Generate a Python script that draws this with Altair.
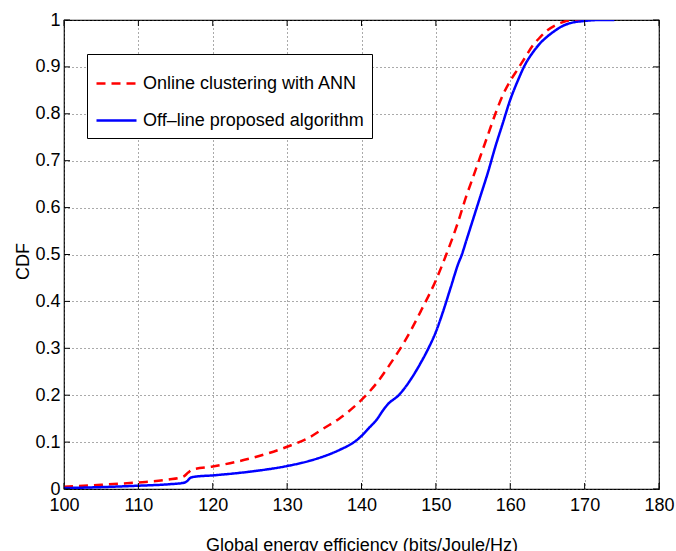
import altair as alt
import pandas as pd

# ---- data ----
online_x = [100, 105, 110, 114, 116, 116.7, 117.2, 120, 125, 130, 133, 135, 137, 140, 142, 144, 146,
            148, 150, 151.4, 153, 154, 155, 156, 157, 158, 159, 160, 161, 162, 163, 164, 165, 166,
            167, 168, 170]
online_y = [0.005, 0.009, 0.014, 0.020, 0.026, 0.035, 0.041, 0.048, 0.065, 0.090, 0.110, 0.130, 0.150,
            0.190, 0.225, 0.270, 0.320, 0.380, 0.445, 0.500, 0.570, 0.620, 0.665, 0.710, 0.755, 0.800,
            0.840, 0.870, 0.895, 0.920, 0.945, 0.963, 0.978, 0.988, 0.995, 0.999, 1.000]

offline_x = [100, 105, 110, 114, 116, 116.5, 117, 117.5, 120, 125, 130, 133, 135, 137, 139, 140, 141,
             142, 143, 143.5, 145, 147, 148, 149, 150, 151, 152, 153, 153.5, 154, 155, 156, 157, 158,
             159, 160, 161, 162, 163, 164, 165, 166, 167, 168, 170, 172, 174]
offline_y = [0.002, 0.004, 0.007, 0.010, 0.013, 0.016, 0.024, 0.026, 0.029, 0.037, 0.049, 0.060, 0.070,
             0.083, 0.100, 0.113, 0.130, 0.147, 0.170, 0.180, 0.200, 0.243, 0.270, 0.300, 0.335, 0.380,
             0.430, 0.480, 0.500, 0.525, 0.575, 0.625, 0.675, 0.730, 0.780, 0.830, 0.870, 0.905, 0.930,
             0.950, 0.965, 0.977, 0.987, 0.993, 0.998, 1.000, 1.000]

series_names = ["Online clustering with ANN", "Off\u2013line proposed algorithm"]
series_colors = ["#ff0000", "#0000ff"]
x_ticks = [100, 110, 120, 130, 140, 150, 160, 170, 180]
y_ticks = [0, 0.1, 0.2, 0.3, 0.4, 0.5, 0.6, 0.7, 0.8, 0.9, 1]

x_title = "Global energy efficiency (bits/Joule/Hz)"
y_title = "CDF"

# ---- tables ----
df = pd.concat([
    pd.DataFrame({"x": online_x, "y": online_y, "series": series_names[0], "k": 0}),
    pd.DataFrame({"x": offline_x, "y": offline_y, "series": series_names[1], "k": 1}),
], ignore_index=True)
xt = pd.DataFrame({"v": x_ticks})
yt = pd.DataFrame({"v": y_ticks})

W, H = 595, 469
FONT = "Liberation Sans"

xscale = alt.Scale(domain=[100, 180], nice=False, zero=False)
yscale = alt.Scale(domain=[0, 1], nice=False, zero=False)

legend = alt.Legend(
    title=None, orient="none", legendX=23, legendY=34,
    fillColor="white", strokeColor="black", padding=8, cornerRadius=0,
    labelFont=FONT, labelFontSize=18, labelColor="black", labelLimit=500,
    symbolType="stroke", symbolSize=1600, symbolStrokeWidth=2.5,
    labelOffset=5, rowPadding=6,
)

color = alt.Color("series:N", scale=alt.Scale(domain=series_names, range=series_colors), legend=legend)
dash = alt.StrokeDash("series:N", scale=alt.Scale(domain=series_names, range=[[9, 6], [1, 0]]), legend=legend)

xaxis = alt.Axis(values=x_ticks, format="~g", grid=True, gridDash=[1, 3], gridColor="#555",
                 ticks=False, tickSize=0, domain=False, labelFont=FONT, labelFontSize=18,
                 labelColor="black", labelPadding=7, labelFlush=False, labelOverlap=False,
                 title=x_title, titleFont=FONT, titleFontSize=18, titleFontWeight="normal",
                 titleColor="black", titleBaseline="alphabetic", titleY=61)
yaxis = alt.Axis(values=y_ticks, format="~g", grid=True, gridDash=[1, 3], gridColor="#555",
                 ticks=False, tickSize=0, domain=False, labelFont=FONT, labelFontSize=18,
                 labelColor="black", labelPadding=4, labelFlush=False, labelOverlap=False,
                 title=y_title, titleFont=FONT, titleFontSize=18, titleFontWeight="normal",
                 titleColor="black", titleBaseline="alphabetic", titleX=-36, titleY=241,
                 titleAngle=270)

base = alt.Chart(df)

line_online = base.transform_filter(alt.datum.k == 0).mark_line(
    strokeWidth=2.5, interpolate="monotone", clip=True
).encode(
    x=alt.X("x:Q", scale=xscale, axis=xaxis),
    y=alt.Y("y:Q", scale=yscale, axis=yaxis),
    color=color, strokeDash=dash, order="x:Q",
)

line_offline = base.transform_filter(alt.datum.k == 1).mark_line(
    strokeWidth=2.5, interpolate="monotone", clip=True
).encode(
    x=alt.X("x:Q", scale=xscale),
    y=alt.Y("y:Q", scale=yscale),
    color=color, strokeDash=dash, order="x:Q",
)

TL = 6
tick_b = alt.Chart(xt).mark_rule(color="black", strokeWidth=1).encode(
    x=alt.X("v:Q", scale=xscale), y=alt.value(H), y2=alt.value(H - TL))
tick_t = alt.Chart(xt).mark_rule(color="black", strokeWidth=1).encode(
    x=alt.X("v:Q", scale=xscale), y=alt.value(0), y2=alt.value(TL))
tick_l = alt.Chart(yt).mark_rule(color="black", strokeWidth=1).encode(
    y=alt.Y("v:Q", scale=yscale), x=alt.value(0), x2=alt.value(TL))
tick_r = alt.Chart(yt).mark_rule(color="black", strokeWidth=1).encode(
    y=alt.Y("v:Q", scale=yscale), x=alt.value(W), x2=alt.value(W - TL))

chart = alt.layer(
    line_online, line_offline, tick_b, tick_t, tick_l, tick_r
).resolve_scale(
    color="shared", strokeDash="shared"
).properties(
    width=W, height=H,
    autosize=alt.AutoSizeParams(type="none"),
    padding={"left": 64, "top": 20, "right": 17, "bottom": 62},
    background="white",
).configure_view(
    stroke="black", strokeWidth=1.2
)

chart.save("out.html", embed_options={"renderer": "svg", "actions": False})
